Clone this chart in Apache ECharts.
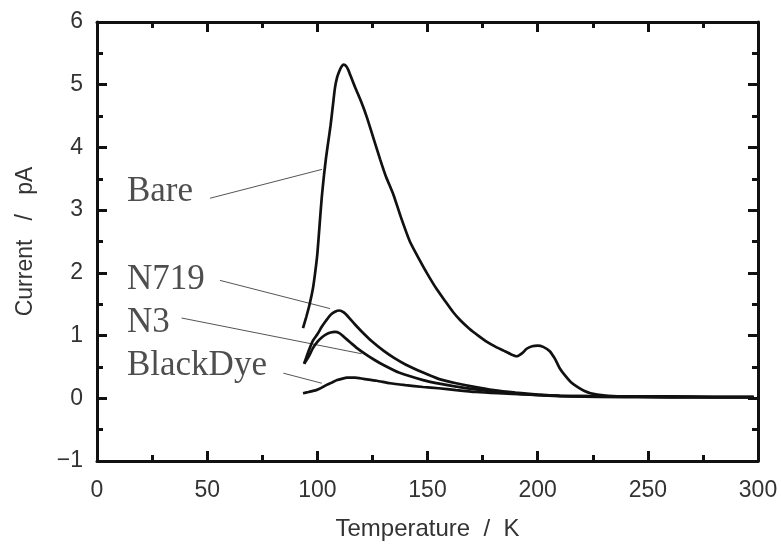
<!DOCTYPE html>
<html>
<head>
<meta charset="utf-8">
<script src="https://cdn.jsdelivr.net/npm/echarts@6/dist/echarts.min.js"></script>
<style>
  html, body { margin: 0; padding: 0; background: #fff; }
  #chart { width: 781px; height: 546px; }
</style>
</head>
<body>
<div id="chart"></div>
<script>
// temperature (K), current (pA)
var bareData = [[93.5,1.12],[95,1.3],[96.5,1.5],[98,1.75],[99,2.0],[100,2.3],[101,2.75],[102,3.2],[103,3.55],[104,3.85],[105,4.1],[106,4.35],[107,4.65],[108,4.95],[109,5.12],[110,5.22],[111,5.29],[112,5.32],[113,5.3],[114,5.24],[115,5.15],[117,4.97],[120,4.72],[122.5,4.48],[125,4.2],[128.5,3.81],[131,3.55],[134.5,3.25],[138,2.88],[142,2.5],[146.5,2.2],[150,1.98],[154,1.75],[158,1.55],[161.5,1.38],[165,1.24],[169,1.11],[173,1.0],[177,0.9],[181,0.82],[184.5,0.76],[188,0.7],[190.5,0.67],[193,0.72],[195,0.79],[197.5,0.83],[200,0.84],[202.5,0.82],[205.5,0.75],[208,0.62],[210,0.48],[212.5,0.36],[215,0.26],[218,0.18],[221,0.12],[224,0.08],[227,0.06],[232,0.04],[240,0.03],[260,0.03],[280,0.02],[298,0.02]];
var n719Data = [[94,0.55],[96,0.75],[98,0.92],[100,1.02],[102,1.14],[104,1.24],[106,1.33],[108,1.38],[110,1.40],[112,1.37],[114,1.30],[117,1.18],[120,1.07],[125,0.9],[130,0.76],[135,0.64],[140,0.54],[148,0.41],[155,0.31],[163,0.24],[170,0.19],[180,0.13],[190,0.09],[200,0.06],[210,0.04],[230,0.03],[260,0.02],[298,0.02]];
var n3Data = [[94,0.55],[96,0.66],[98,0.8],[100,0.9],[102,0.97],[104,1.02],[106,1.05],[108,1.06],[110,1.04],[112,0.98],[115,0.89],[118,0.8],[122,0.7],[126,0.61],[130,0.53],[137,0.41],[148,0.29],[156,0.23],[166,0.17],[175,0.13],[185,0.09],[200,0.05],[215,0.03],[240,0.02],[298,0.02]];
var blackDyeData = [[93.5,0.08],[96,0.1],[99.5,0.13],[102,0.17],[104,0.21],[106.5,0.25],[109,0.29],[111,0.31],[113.5,0.33],[117,0.33],[121,0.31],[127,0.28],[133,0.24],[140,0.21],[148,0.18],[155,0.16],[163,0.13],[172,0.1],[182,0.08],[195,0.06],[210,0.04],[230,0.03],[260,0.02],[298,0.02]];

// annotation labels and leader lines (data coords)
var labelNames = ['Bare', 'N719', 'N3', 'BlackDye'];
var labelPos = [[13.6,3.30],[13.6,1.89],[13.6,1.21],[13.6,0.52]];
var leaderLines = [
    [[51.3,3.19],[102.1,3.65]],
    [[55.8,1.88],[105.8,1.43]],
    [[38.4,1.28],[120.1,0.71]],
    [[84.6,0.40],[102,0.24]]
];

var chart = echarts.init(document.getElementById('chart'));
var axisFont = "'Liberation Sans', 'Noto Sans CJK JP', sans-serif";
var lineCol = '#111';

function curve(name, data) {
    return {
        name: name,
        type: 'line',
        data: data,
        showSymbol: false,
        smooth: 0.2,
        lineStyle: { color: lineCol, width: 2.7 },
        z: 3
    };
}

var series = [
    curve('Bare', bareData),
    curve('N719', n719Data),
    curve('N3', n3Data),
    curve('BlackDye', blackDyeData)
];

leaderLines.forEach(function (seg, i) {
    series.push({
        name: 'leader' + i,
        type: 'line',
        data: seg,
        showSymbol: false,
        lineStyle: { color: '#555', width: 1 },
        z: 2
    });
});

series.push({
    name: 'labels',
    type: 'scatter',
    symbolSize: 0,
    data: labelPos.map(function (p, i) { return [p[0], p[1], labelNames[i]]; }),
    label: {
        show: true,
        position: 'right',
        distance: 0,
        formatter: function (p) { return p.value[2]; },
        fontFamily: "'Liberation Serif', 'Times New Roman', serif",
        fontSize: 35,
        color: '#222'
    },
    z: 4
});

function frameAxis(pos) {
    return {
        type: 'value',
        position: pos,
        axisLine: { show: true, onZero: false, lineStyle: { color: lineCol, width: 3 } },
        axisTick: { show: true, inside: true, length: 10, lineStyle: { color: lineCol, width: 3 } },
        minorTick: { show: true, splitNumber: 2, length: 6, lineStyle: { color: lineCol, width: 3 } },
        axisLabel: { show: false },
        splitLine: { show: false }
    };
}

var xBottom = frameAxis('bottom');
xBottom.min = 0; xBottom.max = 300; xBottom.interval = 50;
xBottom.name = 'Temperature  /  K';
xBottom.nameLocation = 'middle';
xBottom.nameGap = 56;
xBottom.nameTextStyle = { fontFamily: axisFont, fontSize: 24, color: '#333' };
xBottom.axisLabel = { show: true, fontFamily: axisFont, fontSize: 23, color: '#333', margin: 18 };

var xTop = frameAxis('top');
xTop.min = 0; xTop.max = 300; xTop.interval = 50;

var yLeft = frameAxis('left');
yLeft.min = -1; yLeft.max = 6; yLeft.interval = 1;
yLeft.name = 'Current   /   pA';
yLeft.nameLocation = 'middle';
yLeft.nameGap = 60;
yLeft.nameRotate = 90;
yLeft.nameTextStyle = { fontFamily: axisFont, fontSize: 23, color: '#333' };
yLeft.axisLabel = {
    show: true, fontFamily: axisFont, fontSize: 23, color: '#333', margin: 14,
    formatter: function (v) { return v < 0 ? '\u2212' + Math.abs(v) : String(v); }
};

var yRight = frameAxis('right');
yRight.min = -1; yRight.max = 6; yRight.interval = 1;

var option = {
    animation: false,
    backgroundColor: '#fff',
    grid: { left: 97, right: 23, top: 22, bottom: 84 },
    xAxis: [xBottom, xTop],
    yAxis: [yLeft, yRight],
    series: series
};

chart.setOption(option);
</script>
</body>
</html>
